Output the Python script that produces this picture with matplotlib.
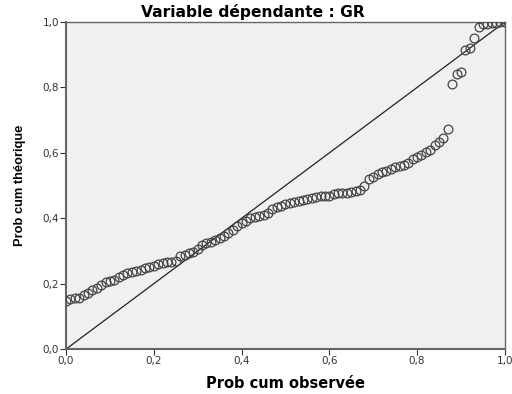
import numpy as np
import matplotlib.pyplot as plt
from matplotlib.ticker import FuncFormatter

plt.rcParams['font.family'] = ['DejaVu Sans']

# observed cumulative probability
obs = [0.00, 0.01, 0.02, 0.03, 0.04, 0.05, 0.06, 0.07, 0.08, 0.09,
       0.10, 0.11, 0.12, 0.13, 0.14, 0.15, 0.16, 0.17, 0.18, 0.19,
       0.20, 0.21, 0.22, 0.23, 0.24, 0.25, 0.26, 0.27, 0.28, 0.29,
       0.30, 0.31, 0.32, 0.33, 0.34, 0.35, 0.36, 0.37, 0.38, 0.39,
       0.40, 0.41, 0.42, 0.43, 0.44, 0.45, 0.46, 0.47, 0.48, 0.49,
       0.50, 0.51, 0.52, 0.53, 0.54, 0.55, 0.56, 0.57, 0.58, 0.59,
       0.60, 0.61, 0.62, 0.63, 0.64, 0.65, 0.66, 0.67, 0.68, 0.69,
       0.70, 0.71, 0.72, 0.73, 0.74, 0.75, 0.76, 0.77, 0.78, 0.79,
       0.80, 0.81, 0.82, 0.83, 0.84, 0.85, 0.86, 0.87, 0.88, 0.89,
       0.90, 0.91, 0.92, 0.93, 0.94, 0.95, 0.96, 0.97, 0.98, 0.99, 1.00]
# expected (theoretical) cumulative probability
theo = [0.147, 0.152, 0.155, 0.157, 0.165, 0.172, 0.182, 0.188, 0.195, 0.204,
        0.208, 0.212, 0.220, 0.228, 0.233, 0.236, 0.238, 0.242, 0.247, 0.250,
        0.255, 0.260, 0.263, 0.265, 0.266, 0.268, 0.284, 0.288, 0.294, 0.298,
        0.305, 0.318, 0.325, 0.328, 0.334, 0.340, 0.347, 0.355, 0.365, 0.375,
        0.385, 0.393, 0.400, 0.403, 0.406, 0.410, 0.415, 0.428, 0.433, 0.438,
        0.443, 0.446, 0.450, 0.453, 0.456, 0.459, 0.462, 0.465, 0.468, 0.468,
        0.468, 0.474, 0.477, 0.477, 0.478, 0.480, 0.483, 0.486, 0.500, 0.520,
        0.525, 0.535, 0.541, 0.545, 0.552, 0.557, 0.560, 0.564, 0.568, 0.580,
        0.587, 0.595, 0.603, 0.610, 0.624, 0.632, 0.645, 0.672, 0.812, 0.842,
        0.846, 0.915, 0.920, 0.952, 0.985, 0.993, 0.995, 0.997, 0.998, 0.999, 1.000]
ticks = [0.0, 0.2, 0.4, 0.6, 0.8, 1.0]

fig = plt.figure(figsize=(5.12, 3.94), dpi=100)
ax = fig.add_axes([0.129, 0.114, 0.857, 0.830])
ax.set_facecolor('#f0f0f0')

ax.plot([0, 1], [0, 1], color='#222222', lw=0.9, zorder=2)
ax.plot(obs, theo, 'o', mfc='none', mec='#444444', ms=6.3, mew=0.9, zorder=3)

ax.set_xlim(0, 1)
ax.set_ylim(0, 1)
ax.set_xticks(ticks)
ax.set_yticks(ticks)
fmt = FuncFormatter(lambda v, p: ('%.1f' % v).replace('.', ','))
ax.xaxis.set_major_formatter(fmt)
ax.yaxis.set_major_formatter(fmt)
ax.tick_params(direction='out', length=4, width=0.8, colors='#333333',
               labelsize=7.5, pad=1)
for s in ax.spines.values():
    s.set_color('#666666')
    s.set_linewidth(1.0)
ax.spines['left'].set_linewidth(1.5)
ax.spines['bottom'].set_linewidth(1.5)

# title is centred on the figure, not on the axes
fig.text(253 / 512, 1 - 12 / 394, 'Variable dépendante : GR', fontsize=11.2,
         fontweight='bold', ha='center', va='center')
ax.set_xlabel('Prob cum observée', fontsize=10.5, fontweight='bold', labelpad=7)
ax.set_ylabel('Prob cum théorique', fontsize=9.3, fontweight='bold', labelpad=12,
              family='Liberation Sans')

fig.savefig('out.png', dpi=100)
